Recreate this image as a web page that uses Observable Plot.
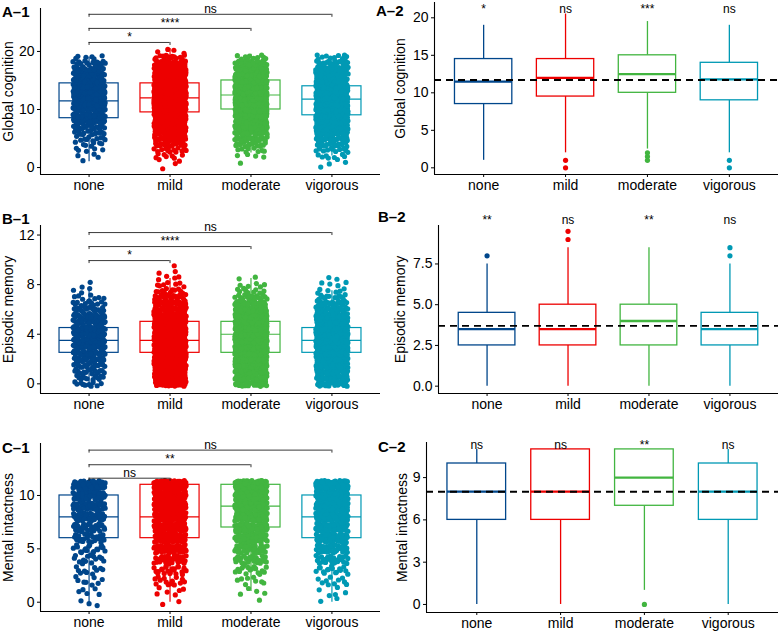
<!DOCTYPE html>
<html><head><meta charset="utf-8">
<script src="https://cdn.jsdelivr.net/npm/d3@7"></script>
<script src="https://cdn.jsdelivr.net/npm/@observablehq/plot@0.6"></script>
<style>
body{margin:0;background:#fff;font-family:"Liberation Sans",Arial,Helvetica,sans-serif;}
#fig{position:relative;width:780px;height:631px;overflow:hidden;background:#fff}
.panel{position:absolute}
.tag{position:absolute;font-weight:bold;font-size:15px;line-height:1;color:#000;white-space:nowrap}
</style></head><body><div id="fig"></div>
<script>
// ---------- data ----------
const categories = ["none", "mild", "moderate", "vigorous"];
const groupColors = ["#00468B", "#ED0000", "#42B540", "#0099B4"];

// Global cognition: score values and number of observations per score (per group)
const gcValues = [0,1,2,3,4,5,6,7,8,9,10,11,12,13,14,15,16,17,18,19,20];
const gcCountNone     = [0,1,3,5,7,10,15,20,26,30,34,36,36,36,34,30,26,20,14,6,0];
const gcCountMild     = [1,3,7,12,20,28,36,44,52,60,66,70,72,72,68,60,50,40,28,14,4];
const gcCountModerate = [0,1,4,8,16,24,32,40,48,56,62,66,70,72,70,62,52,40,26,10,0];
const gcCountVigorous = [1,3,7,11,18,26,34,42,48,54,58,60,60,58,52,44,36,28,20,10,0];
const gcQ1 = [8.5, 9.5, 10, 9];
const gcMedian = [11.5, 12, 12.5, 11.8];
const gcQ3 = [14.5, 14.5, 15, 14];
const gcWhiskerLow = [1, 2, 2.5, 2];
const gcWhiskerHigh = [19, 20.5, 19.5, 19];
const gcOutliers = [[], [1, 0], [2, 1.5, 1], [1, 0]];
const gcMean = 11.7;
const gcSignif = ["*", "ns", "***", "ns"];
const gcPairs = ["mild", "moderate", "vigorous"];
const gcPairLabels = ["*", "****", "ns"];
const gcPairLevels = [21.55, 23.97, 26.4];
const gcTicks1 = [0, 10, 20];
const gcTicks2 = [0, 5, 10, 15, 20];

// Episodic memory
const emValues = [0,0.5,1,1.5,2,2.5,3,3.5,4,4.5,5,5.5,6,6.5,7,7.5,8,8.5,9,9.5];
const emCountNone     = [10,12,16,20,24,28,32,34,32,30,26,22,16,12,7,3,2,0,0,0];
const emCountMild     = [30,36,44,52,60,66,70,70,66,60,52,44,36,26,18,11,7,4,2,1];
const emCountModerate = [30,36,44,52,60,66,70,70,70,62,54,46,38,26,16,9,5,2,0,0];
const emCountVigorous = [26,30,38,46,54,60,64,64,60,52,44,36,28,20,12,6,4,2,0,0];
const emQ1 = [2.5, 2.5, 2.5, 2.5];
const emMedian = [3.5, 3.5, 4, 3.5];
const emQ3 = [4.5, 5, 5, 4.5];
const emWhiskerLow = [0, 0, 0, 0];
const emWhiskerHigh = [7.5, 8.5, 8.5, 7.5];
const emOutliers = [[8], [9, 9.5], [], [8, 8.5]];
const emMean = 3.7;
const emSignif = ["**", "ns", "**", "ns"];
const emPairs = ["mild", "moderate", "vigorous"];
const emPairLabels = ["*", "****", "ns"];
const emPairLevels = [9.94, 11.07, 12.2];
const emTicks1 = [0, 4, 8, 12];
const emTicks2 = [0, 2.5, 5, 7.5];

// Mental intactness
const miValues = [0,1,2,3,4,5,6,7,8,9,10,11];
const miCountNone     = [3,5,8,10,14,18,24,30,36,40,44,48];
const miCountMild     = [2,6,14,22,32,42,52,60,66,72,78,84];
const miCountModerate = [1,4,8,16,26,36,46,56,64,72,80,86];
const miCountVigorous = [2,5,10,16,26,36,46,56,64,70,76,82];
const miQ1 = [6, 6, 7, 6];
const miMedian = [8, 8, 9, 8];
const miQ3 = [10, 11, 11, 10];
const miWhiskerLow = [0, 0, 1, 0];
const miWhiskerHigh = [11, 11, 11, 11];
const miOutliers = [[], [], [0], []];
const miMean = 8;
const miSignif = ["ns", "ns", "**", "ns"];
const miPairs = ["mild", "moderate", "vigorous"];
const miPairLabels = ["ns", "**", "ns"];
const miPairLevels = [11.62, 12.88, 14.25];
const miTicks1 = [0, 5, 10];
const miTicks2 = [0, 3, 6, 9];

// ---------- helpers ----------
const FONT = "'Liberation Sans', Arial, Helvetica, sans-serif";
const fig = document.getElementById("fig");

function halton(i, b) { let f = 1, r = 0; while (i > 0) { f /= b; r += f * (i % b); i = Math.floor(i / b); } return r; }

function jitterPoints(values, countsByGroup, yHalf) {
  const pts = [];
  countsByGroup.forEach((counts, g) => {
    counts.forEach((c, j) => {
      for (let k = 0; k < c; k++) {
        const n = k + 1 + j * 1009 + g * 4001;
        pts.push({x: g + 1 + (halton(n, 2) - 0.5) * 0.4, y: values[j] + (halton(n, 3) - 0.5) * 2 * yHalf, g});
      }
    });
  });
  return pts;
}

function boxData(q1, med, q3, lo, hi) {
  return categories.map((c, i) => ({i: i + 1, q1: q1[i], med: med[i], q3: q3[i], lo: lo[i], hi: hi[i], color: groupColors[i]}));
}

function addTag(text, left, top) {
  const d = document.createElement("div");
  d.className = "tag"; d.textContent = text;
  d.style.left = left + "px"; d.style.top = top + "px";
  fig.appendChild(d);
}

function addPanel(cfg, marks) {
  const p = Plot.plot({
    width: cfg.width, height: cfg.height,
    marginLeft: cfg.ml, marginRight: cfg.mr, marginTop: cfg.mt, marginBottom: cfg.mb,
    style: `font-family: ${FONT}; font-size: 14px; color: #000; background: transparent; overflow: visible;`,
    x: {type: "linear", domain: [0.4, 4.6]},
    y: {type: "linear", domain: cfg.yDomain},
    color: {type: "identity"},
    marks: [
      ...marks,
      Plot.ruleX([0.4], {stroke: "#000", strokeWidth: 1.1}),
      Plot.ruleY([cfg.yDomain[0]], {stroke: "#000", strokeWidth: 1.1}),
      Plot.axisX({ticks: [1, 2, 3, 4], tickFormat: (d) => categories[d - 1], tickSize: 3, tickPadding: 3, label: null, fontSize: 14}),
      Plot.axisY({ticks: cfg.yTicks, tickFormat: cfg.yFormat, tickSize: 3, tickPadding: 3, fontSize: 14,
        label: cfg.yLabel, labelAnchor: "center", labelOffset: cfg.labelOffset, labelArrow: "none"})
    ]
  });
  const wrap = document.createElement("div");
  wrap.className = "panel";
  wrap.style.left = cfg.left + "px"; wrap.style.top = cfg.top + "px";
  wrap.appendChild(p);
  fig.appendChild(wrap);
}

function boxMarks(boxes, w, boxStroke, medStroke) {
  return [
    Plot.ruleX(boxes, {x: "i", y1: "q3", y2: "hi", stroke: "color", strokeWidth: boxStroke}),
    Plot.ruleX(boxes, {x: "i", y1: "q1", y2: "lo", stroke: "color", strokeWidth: boxStroke}),
    Plot.rect(boxes, {x1: (d) => d.i - w / 2, x2: (d) => d.i + w / 2, y1: "q1", y2: "q3", fill: "white", stroke: "color", strokeWidth: boxStroke}),
    Plot.ruleY(boxes, {x1: (d) => d.i - w / 2, x2: (d) => d.i + w / 2, y: "med", stroke: "color", strokeWidth: medStroke})
  ];
}

function bracketMarks(pairs, labels, levels, tip) {
  const br = pairs.map((to, k) => ({a: 1, b: categories.indexOf(to) + 1, y: levels[k], label: labels[k]}));
  return [
    Plot.ruleY(br, {x1: "a", x2: "b", y: "y", stroke: "#222", strokeWidth: 0.9}),
    Plot.ruleX(br, {x: "a", y1: (d) => d.y - tip, y2: "y", stroke: "#222", strokeWidth: 0.9}),
    Plot.ruleX(br, {x: "b", y1: (d) => d.y - tip, y2: "y", stroke: "#222", strokeWidth: 0.9}),
    Plot.text(br, {x: (d) => (d.a + d.b) / 2, y: "y", text: "label", lineAnchor: "bottom", dy: -1.5, fontSize: 12, fill: "#000"})
  ];
}

function leftPanel(cfg, values, counts, yHalf, boxes, pairs, labels, levels, tip) {
  const pts = jitterPoints(values, counts, yHalf);
  addPanel(cfg, [
    ...boxMarks(boxes, 0.73, 1.2, 1.2),
    Plot.dot(pts, {x: "x", y: "y", r: 2.6, fill: (d) => groupColors[d.g], stroke: null}),
    ...bracketMarks(pairs, labels, levels, tip)
  ]);
}

function rightPanel(cfg, boxes, outliers, mean, signif, sigY) {
  const outs = outliers.flatMap((arr, g) => arr.map((v) => ({x: g + 1, y: v, color: groupColors[g]})));
  const sig = signif.map((s, g) => ({x: g + 1, s}));
  addPanel(cfg, [
    ...boxMarks(boxes, 0.7, 1.3, 2.3),
    Plot.dot(outs, {x: "x", y: "y", r: 2.6, fill: "color", stroke: null}),
    Plot.ruleY([mean], {stroke: "#000", strokeWidth: 1.9, strokeDasharray: "7,5"}),
    Plot.text(sig, {x: "x", y: sigY, text: "s", lineAnchor: "bottom", fontSize: 12, fill: "#000"})
  ]);
}

// ---------- row A ----------
leftPanel({left: 0, top: 0, width: 390, height: 200, ml: 40, mr: 10, mt: 8, mb: 26, yDomain: [-1.2, 27.4],
  yTicks: gcTicks1, yFormat: (d) => d, yLabel: "Global cognition", labelOffset: 37},
  gcValues, [gcCountNone, gcCountMild, gcCountModerate, gcCountVigorous], 0.4,
  boxData(gcQ1, gcMedian, gcQ3, gcWhiskerLow, gcWhiskerHigh), gcPairs, gcPairLabels, gcPairLevels, 0.52);
rightPanel({left: 390, top: 0, width: 390, height: 200, ml: 44, mr: 2, mt: 2, mb: 26, yDomain: [-0.89, 22.04],
  yTicks: gcTicks2, yFormat: (d) => d, yLabel: "Global cognition", labelOffset: 39},
  boxData(gcQ1, gcMedian, gcQ3, gcWhiskerLow, gcWhiskerHigh), gcOutliers, gcMean, gcSignif, 20.6);

// ---------- row B ----------
leftPanel({left: 0, top: 205, width: 390, height: 214, ml: 40, mr: 10, mt: 20, mb: 26, yDomain: [-0.78, 12.77],
  yTicks: emTicks1, yFormat: (d) => d, yLabel: "Episodic memory", labelOffset: 37},
  emValues, [emCountNone, emCountMild, emCountModerate, emCountVigorous], 0.2,
  boxData(emQ1, emMedian, emQ3, emWhiskerLow, emWhiskerHigh), emPairs, emPairLabels, emPairLevels, 0.24);
rightPanel({left: 390, top: 205, width: 390, height: 214, ml: 48, mr: 2, mt: 20, mb: 26, yDomain: [-0.45, 9.86],
  yTicks: emTicks2, yFormat: (d) => d.toFixed(1), yLabel: "Episodic memory", labelOffset: 43},
  boxData(emQ1, emMedian, emQ3, emWhiskerLow, emWhiskerHigh), emOutliers, emMean, emSignif, 9.97);

// ---------- row C ----------
leftPanel({left: 0, top: 415, width: 390, height: 216, ml: 40, mr: 10, mt: 28, mb: 20, yDomain: [-0.87, 14.87],
  yTicks: miTicks1, yFormat: (d) => d, yLabel: "Mental intactness", labelOffset: 37},
  miValues, [miCountNone, miCountMild, miCountModerate, miCountVigorous], 0.4,
  boxData(miQ1, miMedian, miQ3, miWhiskerLow, miWhiskerHigh), miPairs, miPairLabels, miPairLevels, 0.28);
rightPanel({left: 390, top: 415, width: 390, height: 216, ml: 36, mr: 2, mt: 27, mb: 19, yDomain: [-0.57, 11.49],
  yTicks: miTicks2, yFormat: (d) => d, yLabel: "Mental intactness", labelOffset: 29},
  boxData(miQ1, miMedian, miQ3, miWhiskerLow, miWhiskerHigh), miOutliers, miMean, miSignif, 11.04);

// ---------- panel tags ----------
addTag("A\u20131", 2, 4); addTag("A\u20132", 376, 3);
addTag("B\u20131", 2, 211); addTag("B\u20132", 378, 209);
addTag("C\u20131", 2, 440); addTag("C\u20132", 378, 439);
</script></body></html>
